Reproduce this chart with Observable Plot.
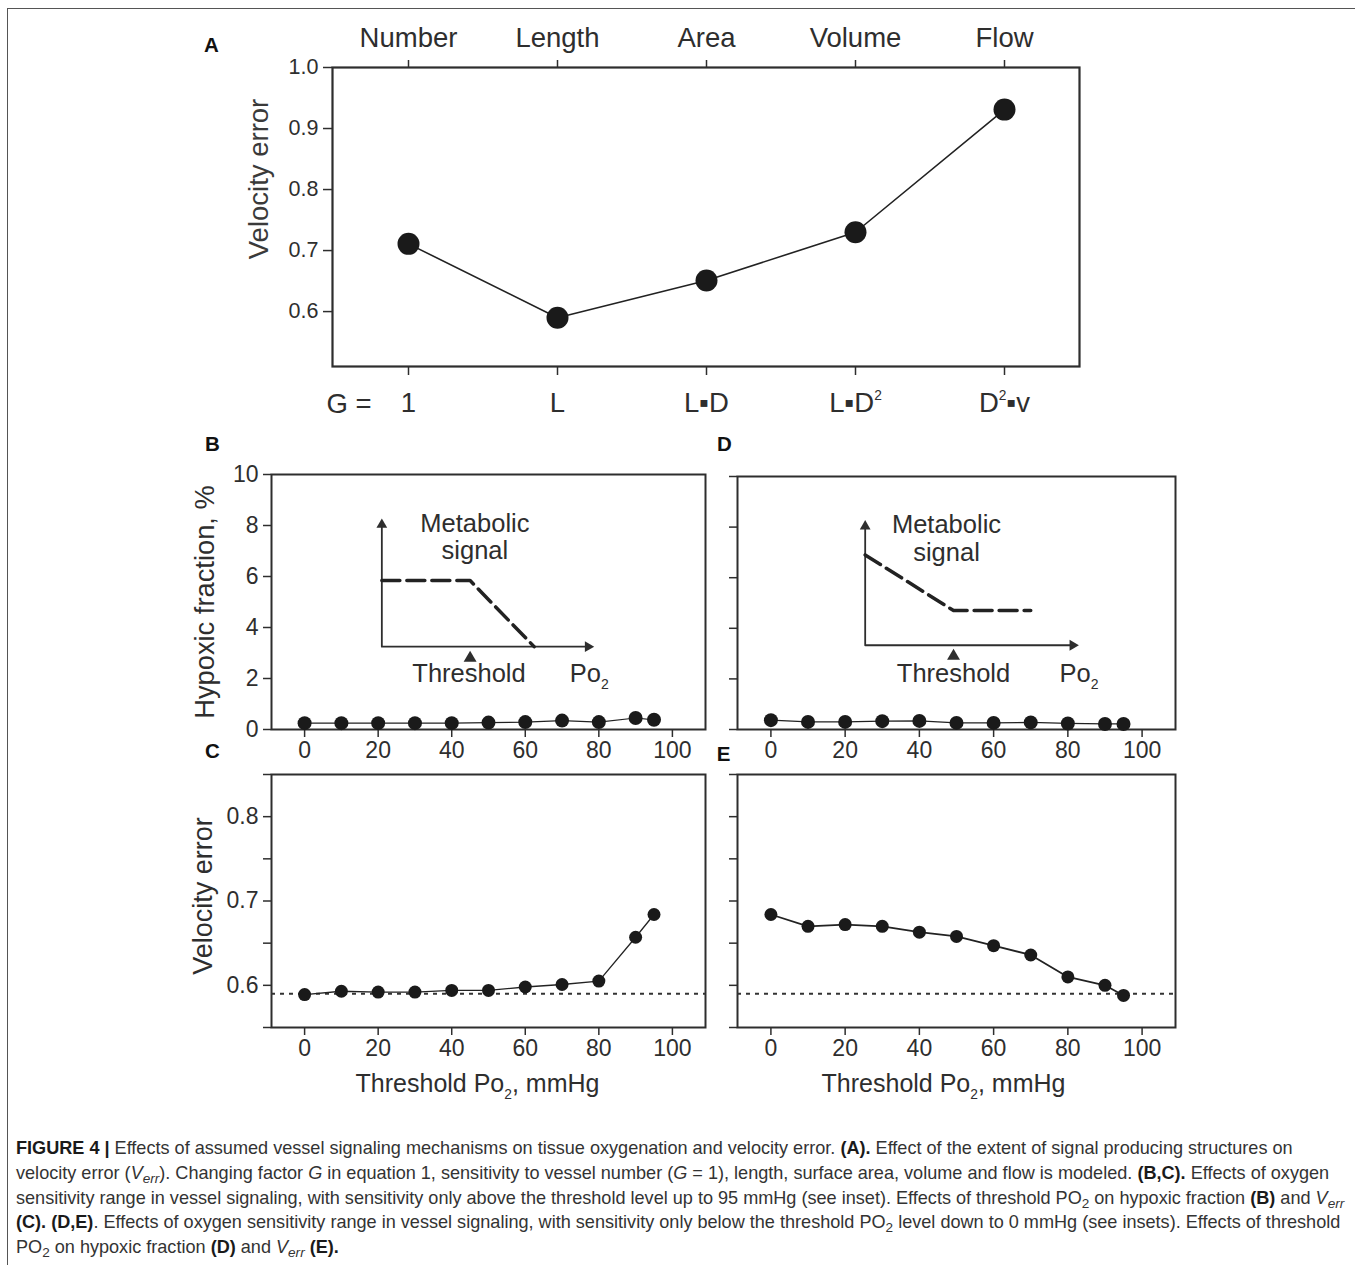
<!DOCTYPE html>
<html><head><meta charset="utf-8">
<script src="https://cdn.jsdelivr.net/npm/d3@7"></script>
<script src="https://cdn.jsdelivr.net/npm/@observablehq/plot@0.6"></script>
<style>
body{margin:0;background:#fff;}
#fig{position:relative;width:1355px;height:1265px;overflow:hidden;background:#fff;font-family:"Liberation Sans",Arial,Helvetica,sans-serif;}
#border{position:absolute;left:7px;top:8px;width:1400px;height:1300px;border-top:1.5px solid #555;border-left:1.5px solid #555;}
#caption{position:absolute;left:16px;top:1136px;font-size:18.1px;line-height:24.8px;color:#333;white-space:nowrap;}
#caption b{color:#1a1a1a}
#caption sub{font-size:0.75em;line-height:0;vertical-align:-0.3em}
</style></head>
<body><div id="fig"><div id="border"></div>
<div id="caption">
<div><b>FIGURE 4 |</b> Effects of assumed vessel signaling mechanisms on tissue oxygenation and velocity error. <b>(A).</b> Effect of the extent of signal producing structures on</div>
<div>velocity error (<i>V<sub>err</sub></i>). Changing factor <i>G</i> in equation 1, sensitivity to vessel number (<i>G</i> = 1), length, surface area, volume and flow is modeled. <b>(B,C).</b> Effects of oxygen</div>
<div>sensitivity range in vessel signaling, with sensitivity only above the threshold level up to 95 mmHg (see inset). Effects of threshold PO<sub>2</sub> on hypoxic fraction <b>(B)</b> and <i>V<sub>err</sub></i></div>
<div><b>(C). (D,E)</b>. Effects of oxygen sensitivity range in vessel signaling, with sensitivity only below the threshold PO<sub>2</sub> level down to 0 mmHg (see insets). Effects of threshold</div>
<div>PO<sub>2</sub> on hypoxic fraction <b>(D)</b> and <i>V<sub>err</sub></i> <b>(E).</b></div>
</div>
</div>
<script>
// ---------- data ----------
const measures = ["Number", "Length", "Area", "Volume", "Flow"];
const gFactors = ["1", "L", "L▪D", "L▪D²", "D²▪v"];
const velErrA = [0.711, 0.590, 0.651, 0.730, 0.931];
const velTicksA = [0.6, 0.7, 0.8, 0.9, 1.0];

const thresholds = [0, 10, 20, 30, 40, 50, 60, 70, 80, 90, 95];
const hypoxicB = [0.25, 0.25, 0.25, 0.25, 0.25, 0.27, 0.29, 0.35, 0.29, 0.45, 0.38];
const hypoxicD = [0.37, 0.30, 0.30, 0.33, 0.34, 0.26, 0.26, 0.28, 0.24, 0.22, 0.22];
const velErrC = [0.589, 0.593, 0.592, 0.592, 0.594, 0.594, 0.598, 0.601, 0.605, 0.657, 0.684];
const velErrE = [0.684, 0.670, 0.672, 0.670, 0.663, 0.658, 0.647, 0.636, 0.610, 0.600, 0.588];
const baselineErr = 0.59;

const xTicks = [0, 20, 40, 60, 80, 100];
const hypTicks = [0, 2, 4, 6, 8, 10];
const errTicks = [0.55, 0.6, 0.65, 0.7, 0.75, 0.8, 0.85];
const errLabeled = [0.6, 0.7, 0.8];

// inset schematics (in each panel's axis units)
const insetAxesB = [{x: 21, y: 8.0}, {x: 21, y: 3.25}, {x: 77, y: 3.25}];
const insetHeadsB = [{x: 21, y: 8.03, a: 0}, {x: 77.05, y: 3.25, a: 90}];
const insetSignalB = [{x: 21, y: 5.84}, {x: 45, y: 5.84}, {x: 62.4, y: 3.25}];
const insetThreshB = [{x: 45, y: 2.8}];
const insetTextB = [
  {x: 46.3, y: 8.08, s: "Metabolic"}, {x: 46.3, y: 7.0, s: "signal"},
  {x: 44.7, y: 2.2, s: "Threshold"}, {x: 77.4, y: 2.2, s: "Po₂"}];

const insetAxesD = [{x: 25.4, y: 8.0}, {x: 25.4, y: 3.33}, {x: 81, y: 3.33}];
const insetHeadsD = [{x: 25.4, y: 8.03, a: 0}, {x: 81.3, y: 3.33, a: 90}];
const insetSignalD = [{x: 25.4, y: 6.9}, {x: 49.2, y: 4.7}, {x: 70, y: 4.7}];
const insetThreshD = [{x: 49.2, y: 2.9}];
const insetTextD = [
  {x: 47.3, y: 8.08, s: "Metabolic"}, {x: 47.3, y: 7.0, s: "signal"},
  {x: 49.2, y: 2.2, s: "Threshold"}, {x: 83, y: 2.2, s: "Po₂"}];

// ---------- helpers ----------
const FONT = '"Liberation Sans", Arial, Helvetica, sans-serif';
const INK = "#2e2e2e";
const fig = document.getElementById("fig");
const common = {style: {background: "transparent", overflow: "visible", maxWidth: "none", color: INK, fontFamily: FONT}};
function place(svg, left, top) {
  svg.style.position = "absolute";
  svg.style.left = left + "px";
  svg.style.top = top + "px";
  fig.appendChild(svg);
  return svg;
}
function richText(root) {
  root.querySelectorAll("text").forEach(el => {
    if (el.querySelector("tspan")) return;
    const s = el.textContent;
    if (!/[₂²]/.test(s)) return;
    const fs = parseFloat(getComputedStyle(el).fontSize);
    el.textContent = "";
    let shift = 0;
    for (const part of s.split(/([₂²])/)) {
      if (!part) continue;
      const t = document.createElementNS("http://www.w3.org/2000/svg", "tspan");
      let target = 0;
      if (part === "₂") { t.textContent = "2"; t.setAttribute("font-size", fs * 0.55); target = fs * 0.28; }
      else if (part === "²") { t.textContent = "2"; t.setAttribute("font-size", fs * 0.5); target = -fs * 0.42; }
      else t.textContent = part;
      if (target !== shift) { t.setAttribute("dy", target - shift); shift = target; }
      el.appendChild(t);
    }
  });
}
const label = (s, o) => Plot.text([s], {text: d => d, textAnchor: "middle", lineAnchor: "middle", ...o});
const letter = (s, dx, dy) => label(s, {frameAnchor: "top-left", dx, dy, fontWeight: "bold", fontSize: 20.5, fill: "#111"});
function insetMarks(axes, heads, signal, thresh, texts) {
  return [
    Plot.line(axes, {x: "x", y: "y", stroke: INK, strokeWidth: 1.8}),
    Plot.dot(heads, {x: "x", y: "y", symbol: "triangle", r: 4, fill: INK, rotate: "a"}),
    Plot.line(signal, {x: "x", y: "y", stroke: "#222", strokeWidth: 3.5, strokeDasharray: "18,7"}),
    Plot.dot(thresh, {x: "x", y: "y", symbol: "triangle", r: 4.8, fill: INK}),
    Plot.text(texts, {x: "x", y: "y", text: "s", fontSize: 25.5, fill: INK})
  ];
}

// ---------- Panel A ----------
const dataA = measures.map((m, i) => ({m, v: velErrA[i]}));
place(Plot.plot({
  ...common, width: 930, height: 430,
  marginLeft: 152, marginRight: 31, marginTop: 67, marginBottom: 64,
  x: {type: "point", domain: measures, padding: 0.5},
  y: {domain: [0.51, 1.0]},
  marks: [
    Plot.frame({stroke: INK, strokeWidth: 2.2}),
    Plot.axisX({anchor: "top", tickSize: 8, tickPadding: 13, fontSize: 27.5, label: null, strokeWidth: 1.5}),
    Plot.axisX({anchor: "bottom", tickSize: 9, tickPadding: 17, fontSize: 27.5, label: null, strokeWidth: 1.5,
      tickFormat: d => gFactors[measures.indexOf(d)]}),
    Plot.axisY({ticks: velTicksA, tickFormat: ".1f", tickSize: 9, tickPadding: 5, fontSize: 21.5, label: null, strokeWidth: 1.5}),
    label("G =", {frameAnchor: "bottom-left", textAnchor: "start", dx: -6, dy: 38, fontSize: 27.5}),
    label("Velocity error", {frameAnchor: "left", rotate: -90, dx: -73, dy: -38, fontSize: 27.5, fill: "#3a3a3a"}),
    letter("A", -121, -22.5),
    Plot.line(dataA, {x: "m", y: "v", stroke: "#222", strokeWidth: 1.6}),
    Plot.dot(dataA, {x: "m", y: "v", r: 11, fill: "#1a1a1a"})
  ]
}), 180, 0);

// ---------- Panels B / D ----------
function hypoxicPanel(values, isLeft, inset, letterDx, letterDy) {
  const rows = thresholds.map((t, i) => ({t, v: values[i]}));
  return Plot.plot({
    ...common, width: isLeft ? 540 : 500, height: 340,
    marginLeft: isLeft ? 91 : 37, marginRight: isLeft ? 15 : 25,
    marginTop: isLeft ? 44 : 46, marginBottom: 41,
    x: {domain: [-9, 109]}, y: {domain: [0, 10]},
    marks: [
      Plot.frame({stroke: INK, strokeWidth: 2}),
      Plot.axisX({ticks: xTicks, tickSize: 8, tickPadding: 4, fontSize: 23, label: null, strokeWidth: 1.5}),
      Plot.axisY({ticks: hypTicks, tickSize: 8, tickPadding: 5, fontSize: 23, label: null, strokeWidth: 1.5,
        tickFormat: isLeft ? d => String(d) : () => ""}),
      isLeft ? label("Hypoxic fraction, %", {frameAnchor: "left", rotate: -90, dx: -66, fontSize: 27.3}) : null,
      letter(isLeft ? "B" : "D", letterDx, letterDy),
      ...inset,
      Plot.line(rows, {x: "t", y: "v", stroke: "#222", strokeWidth: 1.2}),
      Plot.dot(rows, {x: "t", y: "v", r: 7, fill: "#1a1a1a"})
    ]
  });
}
place(hypoxicPanel(hypoxicB, true, insetMarks(insetAxesB, insetHeadsB, insetSignalB, insetThreshB, insetTextB), -59, -30.5), 180, 430);
place(hypoxicPanel(hypoxicD, false, insetMarks(insetAxesD, insetHeadsD, insetSignalD, insetThreshD, insetTextD), -13, -32.5), 700, 430);

// ---------- Panels C / E ----------
function errPanel(values, isLeft, letterDx, letterDy, lineW) {
  const rows = thresholds.map((t, i) => ({t, v: values[i]}));
  return Plot.plot({
    ...common, width: isLeft ? 540 : 500, height: 375,
    marginLeft: isLeft ? 91 : 37, marginRight: isLeft ? 15 : 25,
    marginTop: 39, marginBottom: 83,
    x: {domain: [-9, 109]}, y: {domain: [0.55, 0.85]},
    marks: [
      Plot.frame({stroke: INK, strokeWidth: 2}),
      Plot.axisX({ticks: xTicks, tickSize: 8, tickPadding: 4, fontSize: 23, label: null, strokeWidth: 1.5}),
      Plot.axisY({ticks: errTicks, tickSize: 8, tickPadding: 5, fontSize: 23, label: null, strokeWidth: 1.5,
        tickFormat: d => (isLeft && errLabeled.some(v => Math.abs(v - d) < 1e-9)) ? d.toFixed(1) : ""}),
      Plot.ruleY([baselineErr], {stroke: "#333", strokeWidth: 2, strokeDasharray: "4,5"}),
      isLeft ? label("Velocity error", {frameAnchor: "left", rotate: -90, dx: -68, dy: -5, fontSize: 27}) : null,
      label("Threshold Po₂, mmHg", {frameAnchor: "bottom", dx: isLeft ? -11 : -13, dy: 56, fontSize: 25}),
      letter(isLeft ? "C" : "E", letterDx, letterDy),
      Plot.line(rows, {x: "t", y: "v", stroke: "#222", strokeWidth: lineW}),
      Plot.dot(rows, {x: "t", y: "v", r: 6.5, fill: "#1a1a1a"})
    ]
  });
}
place(errPanel(velErrC, true, -59, -23, 1.3), 180, 735);
place(errPanel(velErrE, false, -14, -20.5, 1.8), 700, 735);

richText(fig);
</script>
</body></html>
